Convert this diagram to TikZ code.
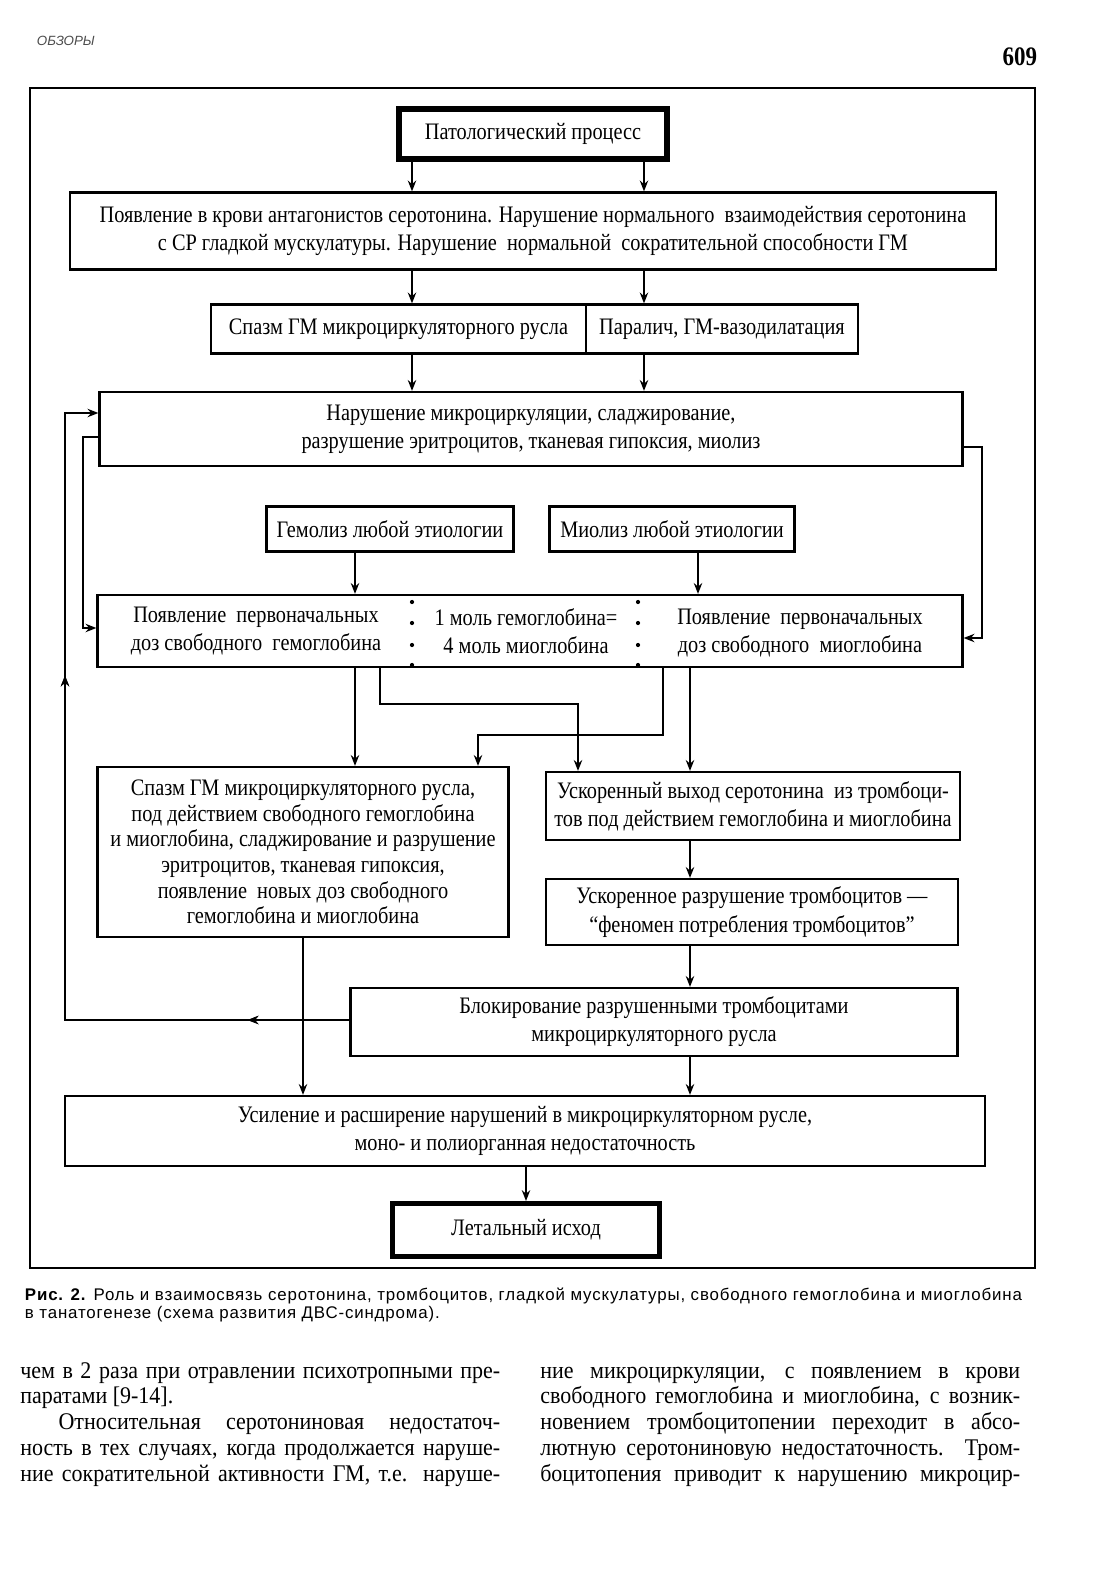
\documentclass[tikz,border=0pt]{standalone}
\usepackage{fontspec}
\setmainfont{Liberation Serif}
\newfontfamily\boxfont[FakeStretch=0.86]{Liberation Serif}
\newfontfamily\bodyfont[FakeStretch=0.92]{Liberation Serif}
\newfontfamily\capfont[LetterSpace=5]{Liberation Sans}
\newfontfamily\headfont{Liberation Sans}
\usepackage{tikz}
\usetikzlibrary{positioning,arrows.meta,calc,decorations.markings}
\newlength\pu
\setlength\pu{0.025cm}
\tolerance=9999

\begin{document}
\begin{tikzpicture}[x=0.025cm, y=-0.025cm, >={Stealth[length=0.27cm,width=0.21cm]},
  font=\boxfont\fontsize{16.8}{20}\selectfont,
  box/.style={draw, line width=1.6pt, align=center, inner sep=0pt},
  heavy/.style={box, line width=3.6pt},
  arr/.style={->, line width=1.1pt},
  column/.style={anchor=base west, text width=480*\pu, inner sep=0pt, align=justify,
    font=\bodyfont\fontsize{17}{18.4}\selectfont},
  midarr/.style={postaction={decorate}, decoration={markings,
    mark=at position #1 with {\arrow{Stealth[length=0.27cm,width=0.21cm]}}}}]
  \useasboundingbox (0,0) rectangle (1101,1577);
  % page head
  \node[anchor=base west, font=\headfont\itshape\fontsize{9.5}{10}\selectfont, text=black!70] (head) at (32,46) {ОБЗОРЫ};
  \node[anchor=base east, font=\boxfont\bfseries\fontsize{19}{20}\selectfont] (pageno) at (1042,66) {609};
  \draw[line width=1.2pt] (30,88) rectangle (1035,1268);

  % boxes, top to bottom
  \node[heavy, minimum width=268*\pu, minimum height=50*\pu] (proc) at (533,134) {Патологический процесс};
  \node[box, minimum width=926*\pu, minimum height=77*\pu] (app) at (533,231)
    {Появление в крови антагонистов серотонина. Нарушение нормального \ взаимодействия серотонина\\
     с СР гладкой мускулатуры. Нарушение \ нормальной \ сократительной способности ГМ};
  \node[box, minimum width=375*\pu, minimum height=49*\pu] (spasm) at (398.5,329) {Спазм ГМ микроциркуляторного русла};
  \node[box, minimum width=272*\pu, minimum height=49*\pu] (paral) at (722,329) {Паралич, ГМ-вазодилатация};
  \node[box, minimum width=863*\pu, minimum height=74*\pu] (micro) at (531,429)
    {Нарушение микроциркуляции, сладжирование,\\ разрушение эритроцитов, тканевая гипоксия, миолиз};
  \node[box, minimum width=247*\pu, minimum height=45*\pu] (hemo) at (390,529) {Гемолиз любой этиологии};
  \node[box, minimum width=245*\pu, minimum height=45*\pu] (myo) at (672,529) {Миолиз любой этиологии};
  \node[box, minimum width=865*\pu, minimum height=72*\pu] (free) at (530,631) {};
  \node[align=center] (freeL) at (256,631) {Появление \ первоначальных\\доз свободного \ гемоглобина};
  \node[align=center] (freeM) at (526,631) {1 моль гемоглобина=\\4 моль миоглобина};
  \node[align=center] (freeR) at (800,633) {Появление \ первоначальных\\доз свободного \ миоглобина};
  \foreach \y in {602,623,645,665} {
    \fill (412,\y) circle (1.5pt);
    \fill (638,\y) circle (1.5pt);
  }
  \node[box, minimum width=411*\pu, minimum height=170*\pu, font=\boxfont\fontsize{16.8}{18.2}\selectfont] (spasmB) at (303,852)
    {Спазм ГМ микроциркуляторного русла,\\ под действием свободного гемоглобина\\
     и миоглобина, сладжирование и разрушение\\ эритроцитов, тканевая гипоксия,\\
     появление \ новых доз свободного\\ гемоглобина и миоглобина};
  \node[box, minimum width=414*\pu, minimum height=68*\pu] (sero) at (753,806)
    {Ускоренный выход серотонина \ из тромбоци-\\тов под действием гемоглобина и миоглобина};
  \node[box, minimum width=412*\pu, minimum height=66*\pu] (destr) at (752,912)
    {Ускоренное разрушение тромбоцитов —\\ “феномен потребления тромбоцитов”};
  \node[box, minimum width=607*\pu, minimum height=68*\pu] (block) at (654,1022)
    {Блокирование разрушенными тромбоцитами\\ микроциркуляторного русла};
  \node[box, minimum width=920*\pu, minimum height=70*\pu] (incr) at (525,1131)
    {Усиление и расширение нарушений в микроциркуляторном русле,\\ моно- и полиорганная недостаточность};
  \node[heavy, minimum width=267*\pu, minimum height=53*\pu] (death) at (526,1230) {Летальный исход};

  % columns of the connectors
  \coordinate (xa) at (412,0);
  \coordinate (xb) at (644,0);
  \coordinate (xh) at (355,0);
  \coordinate (xm) at (698,0);
  \coordinate (xc) at (690,0);
  \coordinate (xs) at (303,0);
  \coordinate (xd) at (526,0);
  \draw[arr] (proc.south -| xa) -- (app.north -| xa);
  \draw[arr] (proc.south -| xb) -- (app.north -| xb);
  \draw[arr] (app.south -| xa) -- (spasm.north -| xa);
  \draw[arr] (app.south -| xb) -- (paral.north -| xb);
  \draw[arr] (spasm.south -| xa) -- (micro.north -| xa);
  \draw[arr] (paral.south -| xb) -- (micro.north -| xb);
  \draw[arr] (hemo.south -| xh) -- (free.north -| xh);
  \draw[arr] (myo.south -| xm) -- (free.north -| xm);

  % feedback loops
  \coordinate (lpA) at (83,437);
  \coordinate (lpB) at (83,628);
  \draw[arr] (micro.west |- lpA) -- (lpA) -- (lpB) -- (free.west |- lpB);
  \coordinate (rpA) at (982,447);
  \coordinate (rpB) at (982,638);
  \draw[arr] (micro.east |- rpA) -- (rpA) -- (rpB) -- (free.east |- rpB);
  \coordinate (fbA) at (65,1020);
  \coordinate (fbB) at (65,413);
  \draw[arr, midarr=0.11, midarr=0.68] (block.west |- fbA) -- (fbA) -- (fbB) -- (micro.west |- fbB);

  % crossing connectors
  \coordinate (k1) at (380,704);
  \coordinate (k2) at (578,704);
  \coordinate (k3) at (663,735);
  \coordinate (k4) at (478,735);
  \draw[arr] (free.south -| xh) -- (spasmB.north -| xh);
  \draw[arr] (free.south -| k1) -- (k1) -- (k2) -- (sero.north -| k2);
  \draw[arr] (free.south -| k3) -- (k3) -- (k4) -- (spasmB.north -| k4);
  \draw[arr] (free.south -| xc) -- (sero.north -| xc);
  \draw[arr] (sero.south -| xc) -- (destr.north -| xc);
  \draw[arr] (destr.south -| xc) -- (block.north -| xc);
  \draw[arr] (block.south -| xc) -- (incr.north -| xc);
  \draw[arr] (spasmB.south -| xs) -- (incr.north -| xs);
  \draw[arr] (incr.south -| xd) -- (death.north -| xd);

  % caption and text
  \node[anchor=base west, font=\capfont\fontsize{12}{12.8}\selectfont] (capA) at (20,1300)
    {\textbf{Рис. 2.} Роль и взаимосвязь серотонина, тромбоцитов, гладкой мускулатуры, свободного гемоглобина и миоглобина};
  \node[anchor=base west, font=\capfont\fontsize{12}{12.8}\selectfont] (capB) at (20,1318)
    {в танатогенезе (схема развития ДВС-синдрома).};
  \node[column] (colL) at (20,1378)
    {чем в 2 раза при отравлении психотропными пре-\linebreak паратами [9-14].\\
     \hspace*{1.6em}Относительная серотониновая недостаточ-\linebreak ность в тех случаях, когда продолжается наруше-\linebreak ние сократительной активности ГМ, т.е. наруше-\linebreak};
  \node[column] (colR) at (540,1378)
    {ние микроциркуляции, с появлением в крови\linebreak свободного гемоглобина и миоглобина, с возник-\linebreak новением тромбоцитопении переходит в абсо-\linebreak лютную серотониновую недостаточность. Тром-\linebreak боцитопения приводит к нарушению микроцир-\linebreak};
\end{tikzpicture}
\end{document}
